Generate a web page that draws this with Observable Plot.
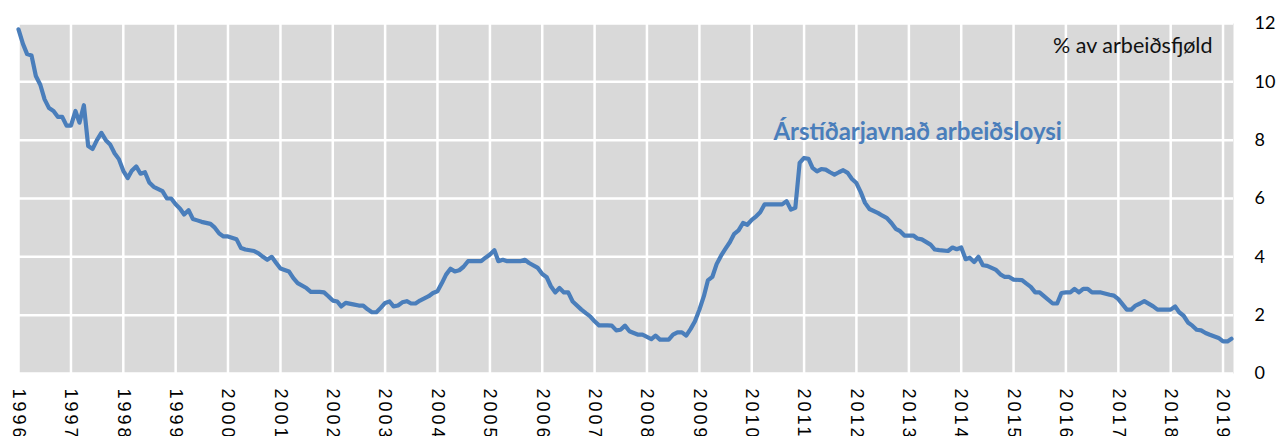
<!DOCTYPE html>
<html>
<head>
<meta charset="utf-8">
<script src="https://cdn.jsdelivr.net/npm/d3@7"></script>
<script src="https://cdn.jsdelivr.net/npm/@observablehq/plot@0.6"></script>
<style>
  html, body { margin: 0; padding: 0; background: #fff; }
  #chart svg { display: block; }
</style>
</head>
<body>
<div id="chart"></div>
<script>
// Seasonally adjusted unemployment, % of labour force (monthly readings)
const months = [
  "1996-01","1996-02","1996-03","1996-04","1996-05","1996-06","1996-07","1996-08","1996-09","1996-10","1996-11","1996-12",
  "1997-01","1997-02","1997-03","1997-04","1997-05","1997-06","1997-07","1997-08","1997-09","1997-10","1997-11","1997-12",
  "1998-01","1998-02","1998-03","1998-04","1998-05","1998-06","1998-07","1998-08","1998-10","1998-11","1998-12",
  "1999-01","1999-02","1999-03","1999-04","1999-05","1999-06","1999-07","1999-09","1999-10","1999-11","1999-12",
  "2000-01","2000-03","2000-04","2000-05","2000-07","2000-08","2000-09","2000-10","2000-11","2000-12",
  "2001-01","2001-03","2001-04","2001-05","2001-07","2001-08","2001-10","2001-11","2001-12",
  "2002-01","2002-02","2002-03","2002-04","2002-06","2002-07","2002-08","2002-09","2002-10","2002-11","2002-12",
  "2003-01","2003-02","2003-03","2003-04","2003-05","2003-06","2003-07","2003-08","2003-09","2003-11","2003-12",
  "2004-01","2004-02","2004-03","2004-04","2004-05","2004-06","2004-07","2004-08","2004-09","2004-11","2004-12",
  "2005-01","2005-02","2005-03","2005-04","2005-05","2005-06","2005-08","2005-09","2005-10","2005-12",
  "2006-01","2006-02","2006-03","2006-04","2006-05","2006-06","2006-07","2006-08","2006-10","2006-11","2006-12",
  "2007-01","2007-02","2007-04","2007-05","2007-06","2007-07","2007-08","2007-09","2007-10","2007-11","2007-12",
  "2008-02","2008-03","2008-04","2008-05","2008-06","2008-07","2008-08","2008-09","2008-10","2008-11","2008-12",
  "2009-01","2009-02","2009-03","2009-04","2009-05","2009-06","2009-07","2009-08","2009-09","2009-10","2009-11","2009-12",
  "2010-01","2010-02","2010-03","2010-04","2010-05","2010-07","2010-08","2010-09","2010-10","2010-11","2010-12",
  "2011-01","2011-02","2011-03","2011-04","2011-05","2011-06","2011-07","2011-08","2011-09","2011-10","2011-11","2011-12",
  "2012-01","2012-02","2012-03","2012-04","2012-06","2012-07","2012-08","2012-09","2012-10","2012-11","2012-12",
  "2013-01","2013-02","2013-03","2013-04","2013-06","2013-07","2013-08","2013-10","2013-11","2013-12",
  "2014-01","2014-02","2014-03","2014-04","2014-05","2014-06","2014-07","2014-09","2014-10","2014-11","2014-12",
  "2015-01","2015-03","2015-04","2015-05","2015-06","2015-07","2015-08","2015-10","2015-11","2015-12",
  "2016-01","2016-02","2016-03","2016-04","2016-05","2016-06","2016-07","2016-09","2016-11","2016-12",
  "2017-01","2017-02","2017-03","2017-04","2017-05","2017-06","2017-07","2017-09","2017-10","2017-11","2017-12",
  "2018-01","2018-02","2018-03","2018-04","2018-05","2018-06","2018-07","2018-08","2018-09","2018-10","2018-12",
  "2019-01","2019-02","2019-03"
];
const rates = [
  11.8,11.3,10.95,10.9,10.2,9.9,9.4,9.1,9.0,8.8,8.8,8.5,
  8.5,9.0,8.6,9.2,7.8,7.7,8.0,8.25,8.0,7.85,7.55,7.35,
  6.95,6.7,6.95,7.1,6.85,6.9,6.55,6.4,6.25,6.0,6.0,
  5.8,5.65,5.45,5.6,5.3,5.25,5.2,5.13,5.0,4.8,4.7,
  4.7,4.6,4.3,4.25,4.2,4.12,4.0,3.9,4.0,3.8,
  3.6,3.5,3.27,3.1,2.93,2.8,2.8,2.78,2.65,
  2.5,2.47,2.3,2.42,2.36,2.33,2.33,2.2,2.1,2.1,2.25,
  2.42,2.47,2.3,2.33,2.44,2.48,2.4,2.4,2.5,2.65,2.76,
  2.82,3.1,3.39,3.59,3.5,3.54,3.66,3.85,3.85,3.85,3.97,
  4.08,4.23,3.85,3.9,3.85,3.85,3.85,3.9,3.79,3.62,
  3.41,3.3,3.0,2.78,2.93,2.78,2.78,2.47,2.19,2.07,1.96,
  1.79,1.65,1.65,1.64,1.48,1.5,1.64,1.45,1.39,1.33,1.33,
  1.18,1.3,1.16,1.16,1.16,1.33,1.41,1.41,1.3,1.53,1.79,
  2.19,2.65,3.19,3.31,3.75,4.04,4.27,4.5,4.79,4.91,5.16,5.1,
  5.27,5.39,5.53,5.8,5.8,5.8,5.8,5.91,5.62,5.68,7.22,
  7.39,7.36,7.05,6.93,7.01,6.99,6.9,6.82,6.9,6.97,6.88,6.67,
  6.53,6.21,5.85,5.64,5.5,5.41,5.33,5.16,4.96,4.88,4.73,
  4.73,4.73,4.63,4.6,4.42,4.25,4.23,4.2,4.32,4.26,
  4.32,3.92,3.97,3.82,4.0,3.71,3.69,3.55,3.4,3.31,3.31,
  3.22,3.2,3.08,2.97,2.78,2.78,2.65,2.4,2.4,2.76,
  2.78,2.78,2.9,2.78,2.9,2.9,2.78,2.78,2.7,2.67,
  2.55,2.36,2.19,2.19,2.33,2.4,2.48,2.3,2.19,2.19,2.19,
  2.19,2.3,2.1,1.98,1.75,1.64,1.5,1.48,1.39,1.33,1.22,
  1.1,1.1,1.19
];
const yearLabels = d3.range(1996, 2020);        // x tick labels
const yTickValues = [0, 2, 4, 6, 8, 10, 12];      // y tick labels
const seriesName = "Árstíðarjavnað arbeiðsloysi";
const unitText = "% av arbeiðsfjøld";
const seriesLabelAt = {month: "2010-06", value: 8.0};

const parse = d3.utcParse("%Y-%m");
const data = months.map((m, i) => ({date: parse(m), rate: rates[i]}));
const yearTicks = yearLabels.map(y => new Date(Date.UTC(y, 0, 1)));
const lineColor = "#4a7ebb";

const chart = Plot.plot({
  width: 1282,
  height: 436,
  marginLeft: 18,
  marginRight: 49,
  marginTop: 23,
  marginBottom: 63,
  style: {background: "#fff", fontFamily: "'Liberation Sans', Arial, sans-serif", fontSize: "18px", color: "#000", overflow: "visible"},
  x: {type: "utc", domain: [parse("1996-01"), new Date(Date.UTC(2019, 2, 15))]},
  y: {domain: [0, 12]},
  marks: [
    Plot.frame({fill: "#d9d9d9", stroke: "none"}),
    Plot.gridX(yearTicks, {stroke: "#fff", strokeOpacity: 1, strokeWidth: 2.5}),
    Plot.gridY(yTickValues, {stroke: "#fff", strokeOpacity: 1, strokeWidth: 2.5}),
    Plot.axisX(yearTicks, {tickSize: 0, tickPadding: 15, tickRotate: 90, tickFormat: d3.utcFormat("%Y"), fontSize: 18, label: null}),
    Plot.axisY(yTickValues, {anchor: "right", tickSize: 0, tickPadding: 21, label: null, fontSize: 18, fontFamily: "Lato"}),
    Plot.lineY(data, {x: "date", y: "rate", stroke: lineColor, strokeWidth: 4.2, strokeLinejoin: "round"}),
    Plot.text([seriesLabelAt], {x: d => parse(d.month), y: "value", text: () => seriesName, textAnchor: "start", lineAnchor: "bottom", fill: lineColor, fontWeight: "bold", fontSize: 24, fontFamily: "Lato"}),
    Plot.text([unitText], {frameAnchor: "top-right", text: d => d, textAnchor: "end", lineAnchor: "bottom", dx: -21, dy: 29, fontSize: 21.5, fontFamily: "Lato", fill: "#111"})
  ]
});
d3.select(chart).selectAll('g[aria-label="x-axis tick label"] text').style("letter-spacing", "3px");
document.getElementById("chart").appendChild(chart);
</script>
</body>
</html>
